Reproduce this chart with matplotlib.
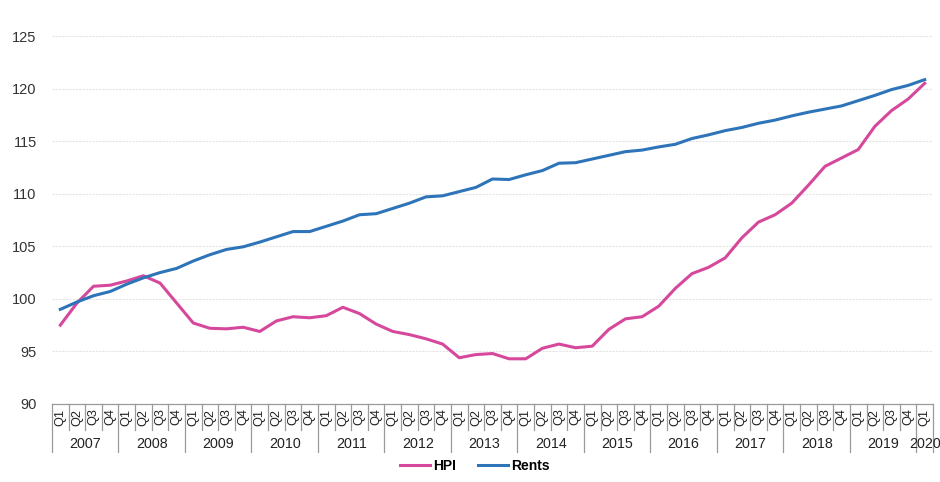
import matplotlib
matplotlib.use("Agg")
import matplotlib.pyplot as plt
import matplotlib.transforms as mtransforms
import numpy as np

plt.rcParams['font.family'] = ['Liberation Sans', 'DejaVu Sans']

# quarterly index, 2007 Q1 .. 2020 Q1
years = [str(y) for y in range(2007, 2021)]
quarters = ['Q1', 'Q2', 'Q3', 'Q4']

hpi = [97.5, 99.6, 101.2, 101.3, 101.7, 102.2, 101.5, 99.6, 97.7, 97.2,
       97.15, 97.3, 96.9, 97.9, 98.3, 98.2, 98.4, 99.2, 98.6, 97.6,
       96.9, 96.6, 96.2, 95.7, 94.4, 94.7, 94.8, 94.3, 94.3, 95.3,
       95.7, 95.35, 95.5, 97.1, 98.1, 98.3, 99.3, 101.0, 102.4, 103.0,
       103.9, 105.8, 107.3, 108.0, 109.1, 110.8, 112.6, 113.4, 114.2, 116.4,
       117.9, 119.0, 120.5]
rents = [99.0, 99.7, 100.3, 100.7, 101.4, 102.0, 102.5, 102.9, 103.6, 104.2,
         104.7, 104.95, 105.4, 105.9, 106.4, 106.4, 106.9, 107.4, 108.0, 108.1,
         108.6, 109.1, 109.7, 109.8, 110.2, 110.6, 111.4, 111.35, 111.8, 112.2,
         112.9, 112.95, 113.3, 113.65, 114.0, 114.15, 114.45, 114.7, 115.25, 115.6,
         116.0, 116.3, 116.7, 117.0, 117.4, 117.75, 118.05, 118.35, 118.85, 119.35,
         119.9, 120.3, 120.85]

n = len(hpi)
x = np.arange(n)

fig = plt.figure(figsize=(9.4, 4.82), dpi=100)
ax = fig.add_axes([52 / 940, 1 - 404 / 482, (933 - 52) / 940, 368 / 482])

ax.plot(x, hpi, color='#d6489c', lw=2.2, label='HPI')
ax.plot(x, rents, color='#2e74b8', lw=2.2, label='Rents')

ax.set_xlim(-0.5, n - 0.5)
ax.set_ylim(90, 125)
ax.set_yticks(np.arange(90, 126, 5))
ax.tick_params(axis='y', length=0, pad=11, labelsize=10.5, labelcolor='#333333')
ax.set_xticks([])
for yv in range(95, 126, 5):
    ax.axhline(yv, color='#e4e4e4', lw=0.8, ls=(0, (2, 1)), zorder=0)

for s in ['top', 'right', 'left']:
    ax.spines[s].set_visible(False)
ax.spines['bottom'].set_color('#9a9a9a')
ax.spines['bottom'].set_linewidth(0.9)

# two-level category axis (quarters + years)
trans = mtransforms.blended_transform_factory(ax.transData, ax.transAxes)
h = 368.0
q_bot = -(430 - 404) / h
y_bot = -(452 - 404) / h
for i in range(n + 1):
    xb = i - 0.5
    bottom = y_bot if (i % 4 == 0 or i == n) else q_bot
    ax.plot([xb, xb], [0, bottom], color='#9a9a9a', lw=0.9,
            transform=trans, clip_on=False)
for i in range(n):
    ax.text(i, -(417 - 404) / h, quarters[i % 4], transform=trans,
            rotation=90, ha='center', va='center', fontsize=9.2, color='#222222')
for k, yr in enumerate(years):
    start = 4 * k
    end = min(start + 4, n)
    ax.text((start + end - 1) / 2, -(444 - 404) / h, yr, transform=trans,
            ha='center', va='center', fontsize=10.3, color='#222222')

fig.legend(loc='center', bbox_to_anchor=(0.505, 1 - 466 / 482), ncol=2,
           frameon=False, handlelength=2.2, handletextpad=0.2, columnspacing=1.6,
           prop={'weight': 'bold', 'size': 10})

fig.savefig('out.png', dpi=100)
